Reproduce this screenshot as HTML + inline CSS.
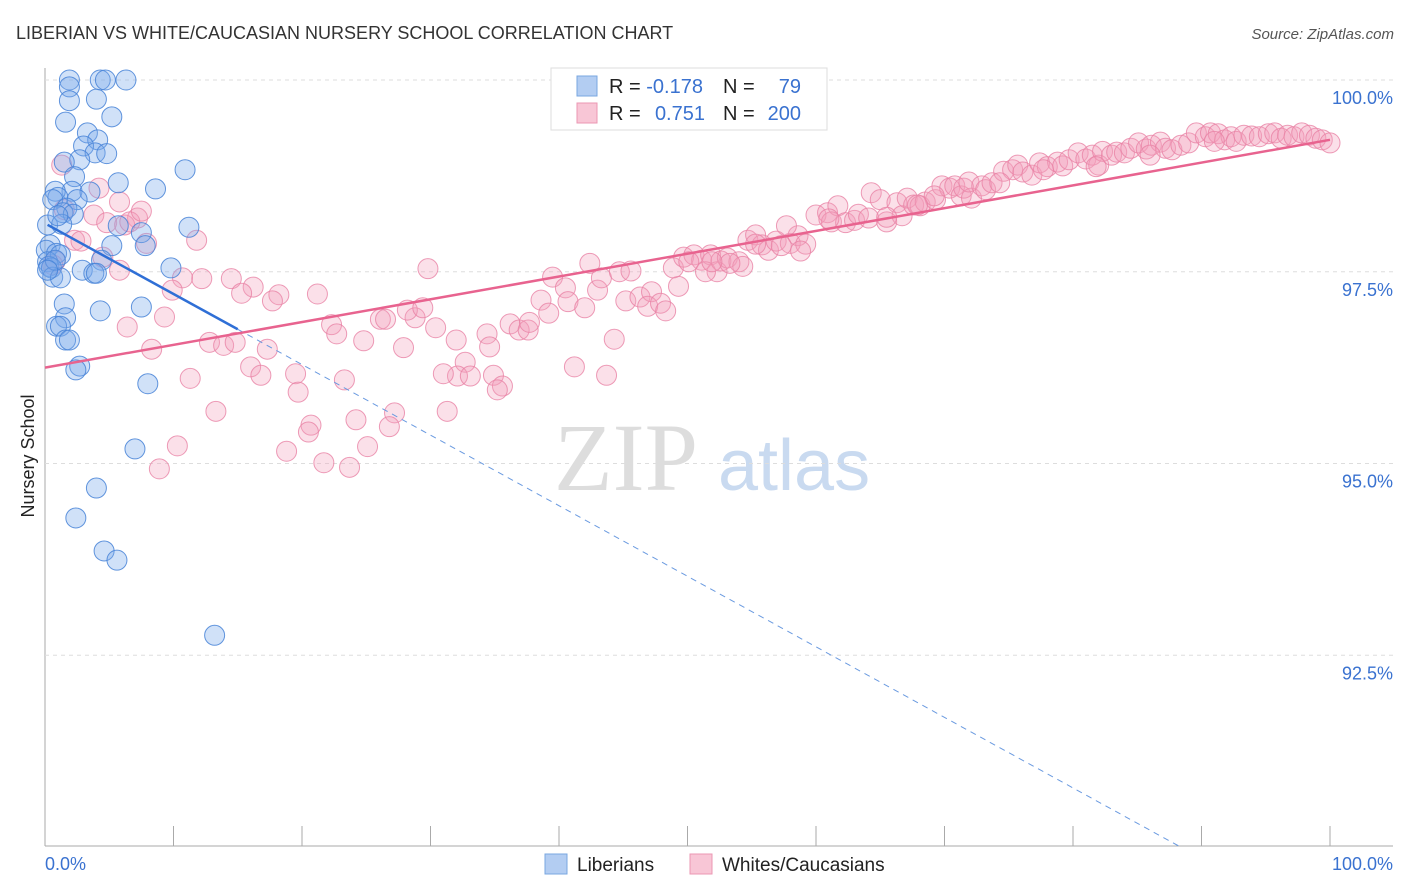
<!DOCTYPE html>
<html><head><meta charset="utf-8"><style>
body{margin:0;background:#fff;font-family:"Liberation Sans",sans-serif;}
#wrap{position:relative;width:1406px;height:892px;overflow:hidden;}
</style></head><body>
<div id="wrap">
<svg id="svg" width="1406" height="892" xmlns="http://www.w3.org/2000/svg">
<text x="16" y="39" font-size="18" fill="#333">LIBERIAN VS WHITE/CAUCASIAN NURSERY SCHOOL CORRELATION CHART</text>
<text x="1394" y="39" font-size="15" fill="#555" font-style="italic" text-anchor="end">Source: ZipAtlas.com</text>
<text x="554" y="490" font-size="96" fill="#ddd" font-family="Liberation Serif,serif">ZIP</text>
<text x="718" y="490" font-size="72" fill="#c9daf0">atlas</text>
<text transform="translate(34,456) rotate(-90)" font-size="18" fill="#222" text-anchor="middle">Nursery School</text>
<g id="grid"></g><g id="pts"></g><g id="lines"></g>
<g>
<rect x="551" y="68" width="276" height="62" fill="#fff" stroke="#ddd"/>
<rect x="577" y="76" width="20" height="20" fill="#b3cdf2" stroke="#7aa7e0"/>
<rect x="577" y="103" width="20" height="20" fill="#f8c6d6" stroke="#eb97b3"/>
<text x="609" y="93" font-size="20" fill="#222">R = <tspan fill="#3a72d0">-0.178</tspan></text>
<text x="723" y="93" font-size="20" fill="#222">N = </text><text x="801" y="93" font-size="20" fill="#3a72d0" text-anchor="end">79</text>
<text x="609" y="120" font-size="20" fill="#222">R = </text><text x="705" y="120" font-size="20" fill="#3a72d0" text-anchor="end">0.751</text>
<text x="723" y="120" font-size="20" fill="#222">N = </text><text x="801" y="120" font-size="20" fill="#3a72d0" text-anchor="end">200</text>
</g>
<g>
<rect x="545" y="854" width="22" height="20" fill="#b3cdf2" stroke="#7aa7e0"/>
<text x="577" y="871" font-size="19" fill="#222">Liberians</text>
<rect x="690" y="854" width="22" height="20" fill="#f8c6d6" stroke="#eb97b3"/>
<text x="722" y="871" font-size="19" fill="#222">Whites/Caucasians</text>
</g>
<text x="45" y="870" font-size="18" fill="#3a72d0">0.0%</text>
<text x="1393" y="870" font-size="18" fill="#3a72d0" text-anchor="end">100.0%</text>
</svg></div>
<script>
const yTicks=[100,97.5,95,92.5];
const yTickLabels=["100.0%","97.5%","95.0%","92.5%"];
const xTicks=[0,10,20,30,40,50,60,70,80,90,100];
const blueX=[1.9,6.3,4.3,4.7,1.9,1.9,4.0,1.6,5.2,3.3,4.1,3.0,3.9,4.8,2.7,1.5,10.9,2.3,5.7,8.6,2.1,0.8,3.5,1.0,0.6,2.5,1.7,1.4,2.2,5.7,11.2,0.2,1.3,7.5,7.8,5.2,0.4,0.1,0.9,1.2,0.2,0.3,4.4,0.5,9.8,2.9,3.8,4.0,0.6,1.2,1.5,7.5,4.3,1.6,0.9,1.2,1.6,1.9,2.7,2.4,8.0,7.0,4.0,2.4,4.6,5.6,13.2,0.8,0.2,1.0];
const blueY=[100,100,100,100,99.91,99.73,99.75,99.45,99.52,99.31,99.22,99.14,99.05,99.04,98.96,98.93,98.83,98.74,98.66,98.58,98.55,98.55,98.54,98.47,98.44,98.44,98.33,98.27,98.25,98.10,98.08,98.11,98.12,98.01,97.84,97.84,97.85,97.78,97.74,97.72,97.63,97.57,97.65,97.55,97.55,97.52,97.48,97.48,97.43,97.42,97.08,97.04,96.99,96.90,96.79,96.79,96.61,96.61,96.27,96.22,96.04,95.19,94.68,94.29,93.86,93.74,92.76,97.65,97.52,98.23];
const pinkX=[1.3,4.2,5.8,3.8,4.8,7.2,1.5,2.3,2.8,6.2,7.9,11.8,6.6,7.5,4.5,0.8,0.6,5.8,10.7,12.2,14.5,16.2,15.3,18.2,17.7,21.2,9.9,9.3,6.4,8.3,12.8,13.9,14.8,16.0,16.8,17.3,11.3,19.5,19.7,23.3,13.3,20.7,20.5,24.2,27.2,26.8,18.8,25.1,10.3,8.9,21.7,23.7,22.3,22.7,24.8,26.1,26.5,27.9,28.8,28.2,29.4,30.4,29.8,32.0,32.7,34.4,32.1,31.0,33.1,34.9,35.6,35.2,31.3,36.2,36.9,37.6,37.7,34.6,38.6,39.2,39.5,40.5,40.7,42.0,42.4,43.0,43.3,44.7,45.6,44.3,41.2,43.7,45.2,46.3,47.2,46.9,47.9,48.3,49.3,48.9,49.7,50.5,51.1,51.8,52.3,51.4,52.6,53.1,54.0,54.3,53.3,54.7,55.3,55.8,56.3,56.9,58.0,58.6,59.2,58.8,60.0,60.9,61.7,61.2,62.3,63.0,63.3,64.1,64.3,65.0,65.5,66.3,66.7,67.1,67.6,68.1,68.5,69.3,69.8,70.4,70.8,71.3,71.5,72.1,71.9,72.9,73.2,73.7,74.6,75.3,75.7,76.1,76.8,77.4,78.0,78.8,79.2,79.7,80.4,81.0,81.5,82.0,82.3,83.0,83.4,84.0,84.5,85.1,85.7,86.1,86.8,87.2,87.7,88.4,89.0,89.6,90.3,90.7,91.3,91.8,92.3,92.7,93.3,93.9,94.5,95.2,95.7,96.2,96.7,97.2,97.8,98.4,98.9,99.4,100.0,91.0,86.0,81.8,77.7,74.3,69.2,67.9,65.5,61.0,57.7,57.3,55.3,51.9,50.1];
const pinkY=[98.89,98.59,98.41,98.24,98.14,98.20,98.31,97.91,97.90,98.11,97.87,97.91,98.15,98.29,97.69,97.64,97.59,97.52,97.42,97.41,97.41,97.30,97.22,97.20,97.12,97.21,97.26,96.91,96.78,96.49,96.58,96.54,96.58,96.26,96.15,96.49,96.11,96.17,95.93,96.09,95.68,95.50,95.41,95.57,95.66,95.48,95.16,95.22,95.23,94.93,95.01,94.95,96.81,96.69,96.60,96.88,96.88,96.51,96.90,97.00,97.03,96.77,97.54,96.61,96.32,96.69,96.14,96.17,96.14,96.15,96.01,95.96,95.68,96.82,96.74,96.74,96.84,96.52,97.13,96.96,97.43,97.29,97.11,97.03,97.61,97.26,97.42,97.50,97.51,96.62,96.26,96.15,97.12,97.17,97.24,97.05,97.09,96.99,97.31,97.55,97.69,97.72,97.65,97.72,97.50,97.50,97.64,97.68,97.63,97.57,97.61,97.91,97.98,97.85,97.78,97.90,97.87,97.97,97.86,97.77,98.24,98.27,98.36,98.15,98.14,98.17,98.25,98.20,98.53,98.44,98.15,98.40,98.23,98.46,98.37,98.36,98.41,98.44,98.62,98.59,98.62,98.49,98.59,98.46,98.67,98.62,98.57,98.66,98.81,98.83,98.89,98.80,98.76,98.92,98.87,98.93,98.88,98.96,99.05,98.97,99.02,98.89,99.07,99.02,99.06,99.05,99.11,99.18,99.10,99.15,99.19,99.11,99.09,99.15,99.18,99.31,99.26,99.31,99.30,99.22,99.26,99.20,99.28,99.27,99.26,99.30,99.31,99.24,99.28,99.26,99.31,99.28,99.24,99.22,99.18,99.20,99.02,98.87,98.83,98.66,98.49,98.37,98.21,98.19,98.10,97.84,97.86,97.63,97.63];
const blueTrend=[98.13,-0.092];
const pinkTrend=[96.25,0.0297];
const X=v=>45+v*12.85;
const Y=v=>80+(100-v)*76.7;
const NS="http://www.w3.org/2000/svg";
function mk(t,a,p){const e=document.createElementNS(NS,t);for(const k in a)e.setAttribute(k,a[k]);p.appendChild(e);return e;}
const grid=document.getElementById('grid');
mk('line',{x1:45,y1:68,x2:45,y2:846,stroke:'#aaa','stroke-width':1},grid);
mk('line',{x1:45,y1:846,x2:1393,y2:846,stroke:'#aaa','stroke-width':1},grid);
yTicks.forEach((t,i)=>{
 const l=mk('line',{x1:45,y1:Y(t),x2:1393,y2:Y(t),stroke:'#ddd','stroke-dasharray':'4,4'},grid);
 
 
 const tx=mk('text',{x:1393,y:Y(t)+24,'font-size':18,fill:'#3a72d0','text-anchor':'end'},grid);
 tx.textContent=yTickLabels[i];
 
 
});
xTicks.forEach(t=>{
 const l=mk('line',{x1:X(t),y1:826,x2:X(t),y2:846,stroke:'#aaa'},grid);
 
 
});
const pts=document.getElementById('pts');
pinkX.forEach((x,i)=>{
 const c=mk('circle',{cx:X(x),cy:Y(pinkY[i]),r:10,fill:'rgba(244,160,188,0.32)',stroke:'rgba(232,130,165,0.8)','stroke-width':1},pts);
 
 
});
blueX.forEach((x,i)=>{
 const c=mk('circle',{cx:X(x),cy:Y(blueY[i]),r:10,fill:'rgba(120,170,235,0.35)',stroke:'rgba(70,130,215,0.85)','stroke-width':1},pts);
 
 
});
const lines=document.getElementById('lines');
const bY=x=>blueTrend[0]+blueTrend[1]*x;
const bEnd=(90-blueTrend[0])/blueTrend[1];
const b1=mk('line',{x1:X(0.2),y1:Y(bY(0.2)),x2:X(15),y2:Y(bY(15)),stroke:'#2f6fd6','stroke-width':2.5},lines);


const b2=mk('line',{x1:X(15),y1:Y(bY(15)),x2:X(bEnd),y2:Y(90),stroke:'#6a9ae0','stroke-width':1,'stroke-dasharray':'6,5'},lines);


const pY=x=>pinkTrend[0]+pinkTrend[1]*x;
const p1=mk('line',{x1:X(0),y1:Y(pY(0)),x2:X(100),y2:Y(pY(100)),stroke:'#e8638f','stroke-width':2.5},lines);


</script>
</body></html>
